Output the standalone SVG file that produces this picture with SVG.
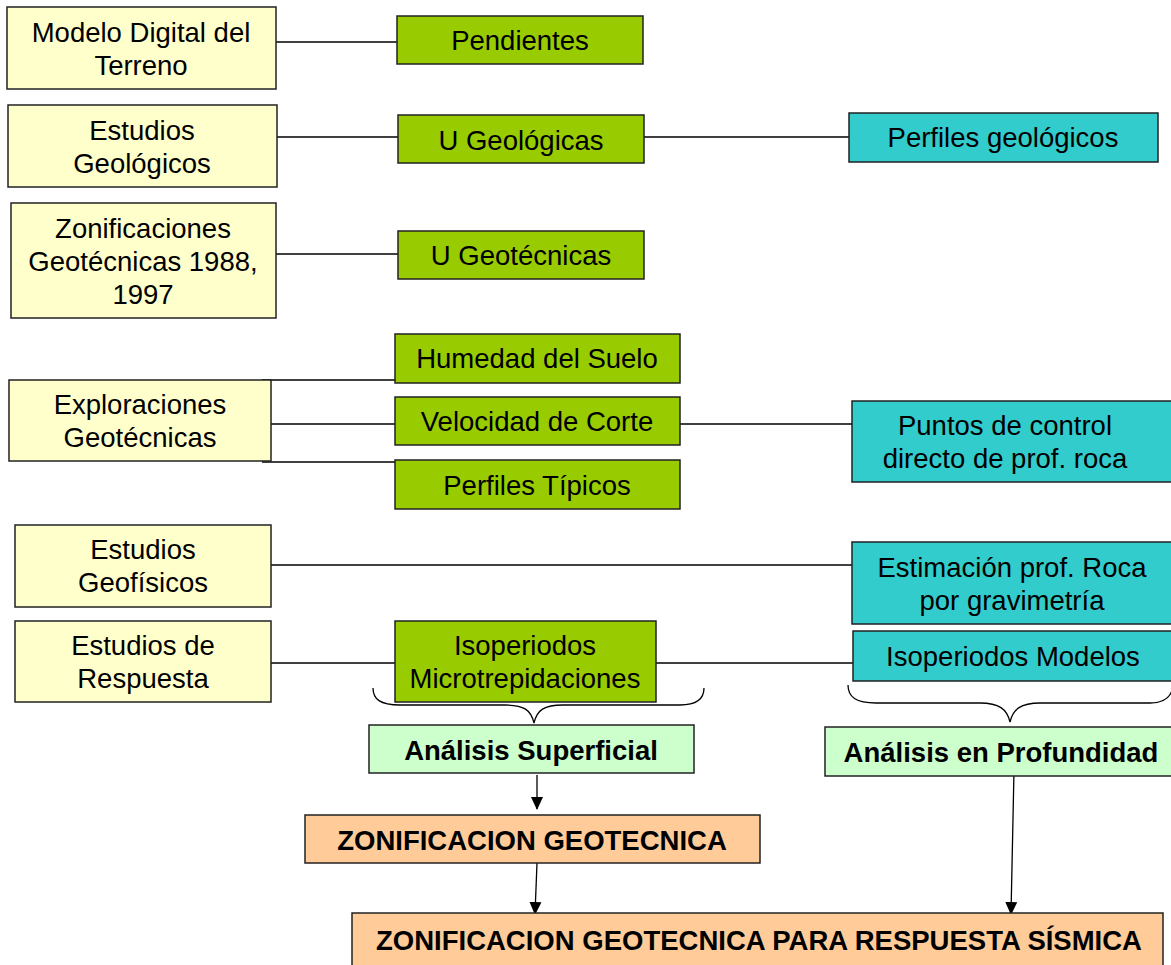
<svg xmlns="http://www.w3.org/2000/svg" width="1171" height="965" viewBox="0 0 1171 965">
<defs>
<style>
.n rect{stroke:#222;stroke-width:1.5}
.y{fill:#FFFFCC}.g{fill:#99CC00}.c{fill:#33CCCC}.l{fill:#CCFFCC}.o{fill:#FFCC99}
text{font-family:"Liberation Sans",Arial,sans-serif;font-size:27.5px;fill:#000;text-anchor:middle}
.b{font-weight:bold}
.ln{stroke:#000;stroke-width:1.3;fill:none}
</style>
<marker id="ah" markerWidth="14" markerHeight="14" refX="12" refY="7" orient="auto" markerUnits="userSpaceOnUse">
<path d="M0,1 L13,7 L0,13 Z" fill="#000"/>
</marker>
</defs>
<rect x="0" y="0" width="1171" height="965" fill="#fff"/>
<g id="connectors">
<line class="ln" x1="276" y1="42" x2="397" y2="42"/>
<line class="ln" x1="277" y1="137" x2="398" y2="137"/>
<line class="ln" x1="644" y1="137" x2="849" y2="137"/>
<line class="ln" x1="276" y1="254" x2="398" y2="254"/>
<line class="ln" x1="262" y1="380" x2="395" y2="380"/>
<line class="ln" x1="271" y1="424" x2="395" y2="424"/>
<line class="ln" x1="262" y1="462" x2="395" y2="462"/>
<line class="ln" x1="680" y1="424" x2="852" y2="424"/>
<line class="ln" x1="271" y1="565" x2="852" y2="565"/>
<line class="ln" x1="271" y1="663" x2="395" y2="663"/>
<line class="ln" x1="656" y1="663" x2="853" y2="663"/>
<path class="ln" d="M373,688 C373,699 380,705 400,705 L505,705 C524,705 531,710 534,723 C537,710 544,705 563,705 L680,705 C697,705 704,699 704,688"/>
<path class="ln" d="M848,685 C848,697 856,703 876,703 L980,703 C999,703 1007,709 1010,722 C1013,709 1021,703 1040,703 L1150,703 C1165,703 1172,697 1173,685"/>
<line class="ln" x1="537" y1="775" x2="537" y2="809" marker-end="url(#ah)"/>
<line class="ln" x1="537" y1="863" x2="535" y2="914" marker-end="url(#ah)"/>
<line class="ln" x1="1014" y1="770" x2="1011" y2="914" marker-end="url(#ah)"/>
</g>
<g class="n">
<g id="n1"><rect class="y" x="7" y="7" width="269" height="82"/><text x="141" y="42">Modelo Digital del</text><text x="141" y="75">Terreno</text></g>
<g id="n2"><rect class="g" x="397" y="16" width="246" height="48"/><text x="520" y="50">Pendientes</text></g>
<g id="n3"><rect class="y" x="8" y="105" width="269" height="82"/><text x="142" y="140">Estudios</text><text x="142" y="173">Geológicos</text></g>
<g id="n4"><rect class="g" x="398" y="115" width="246" height="48"/><text x="521" y="150">U Geológicas</text></g>
<g id="n5"><rect class="c" x="849" y="113" width="309" height="49"/><text x="1003" y="147">Perfiles geológicos</text></g>
<g id="n6"><rect class="y" x="11" y="203" width="265" height="115"/><text x="143" y="238">Zonificaciones</text><text x="143" y="271">Geotécnicas 1988,</text><text x="143" y="304">1997</text></g>
<g id="n7"><rect class="g" x="398" y="231" width="246" height="48"/><text x="521" y="265">U Geotécnicas</text></g>
<g id="n8"><rect class="g" x="395" y="334" width="285" height="49"/><text x="537" y="368">Humedad del Suelo</text></g>
<g id="n9"><rect class="y" x="9" y="380" width="262" height="81"/><text x="140" y="414">Exploraciones</text><text x="140" y="447">Geotécnicas</text></g>
<g id="n10"><rect class="g" x="395" y="397" width="285" height="48"/><text x="537" y="431">Velocidad de Corte</text></g>
<g id="n11"><rect class="g" x="395" y="460" width="285" height="49"/><text x="537" y="495">Perfiles Típicos</text></g>
<g id="n12"><rect class="c" x="852" y="401" width="322" height="81"/><text x="1005" y="435">Puntos de control</text><text x="1005" y="468">directo de prof. roca</text></g>
<g id="n13"><rect class="y" x="15" y="525" width="256" height="82"/><text x="143" y="559">Estudios</text><text x="143" y="592">Geofísicos</text></g>
<g id="n14"><rect class="c" x="852" y="542" width="322" height="82"/><text x="1012" y="577">Estimación prof. Roca</text><text x="1012" y="610">por gravimetría</text></g>
<g id="n15"><rect class="y" x="15" y="621" width="256" height="81"/><text x="143" y="655">Estudios de</text><text x="143" y="688">Respuesta</text></g>
<g id="n16"><rect class="g" x="395" y="621" width="261" height="81"/><text x="525" y="655">Isoperiodos</text><text x="525" y="688">Microtrepidaciones</text></g>
<g id="n17"><rect class="c" x="853" y="631" width="321" height="50"/><text x="1013" y="666">Isoperiodos Modelos</text></g>
<g id="n18"><rect class="l" x="369" y="725" width="325" height="48"/><text class="b" x="531" y="760">Análisis Superficial</text></g>
<g id="n19"><rect class="l" x="825" y="727" width="349" height="49"/><text class="b" x="1001" y="762">Análisis en Profundidad</text></g>
<g id="n20"><rect class="o" x="305" y="815" width="455" height="48"/><text class="b" x="532" y="850">ZONIFICACION GEOTECNICA</text></g>
<g id="n21"><rect class="o" x="352" y="913" width="811" height="54"/><text class="b" x="759" y="950">ZONIFICACION GEOTECNICA PARA RESPUESTA SÍSMICA</text></g>
</g>
</svg>
